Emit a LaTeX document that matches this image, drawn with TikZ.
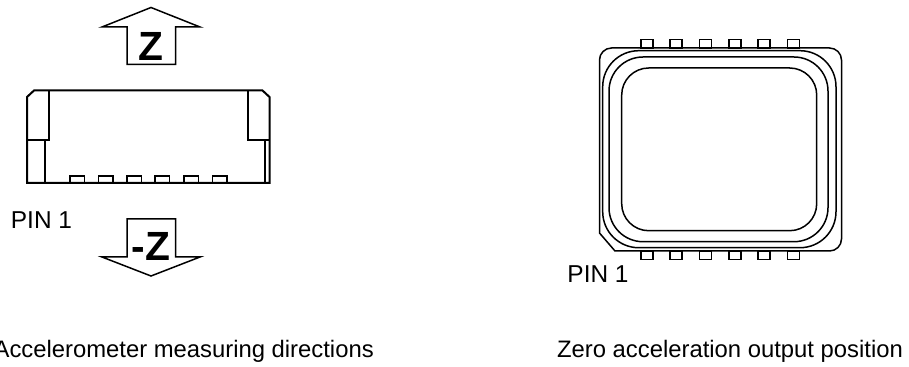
\documentclass[tikz,border=0pt]{standalone}
\usepackage{fontspec}
\setmainfont{Liberation Sans}
\usepackage{tikz}
\tikzset{
    outline/.style={draw=black, line width=0.2mm, line join=miter},
    thinline/.style={draw=black, line width=0.15mm},
    pad/.style={draw=black, line width=0.15mm},
    plainlabel/.style={font=\fontsize{6.95pt}{8pt}\selectfont, inner sep=0pt},
    caplabel/.style={font=\fontsize{6.78pt}{8pt}\selectfont, inner sep=0pt},
    dirlabel/.style={font=\fontsize{11.6pt}{13pt}\selectfont\bfseries, inner sep=0pt},
}

\begin{document}
\begin{tikzpicture}[x=1cm, y=1cm]
        \useasboundingbox (0,0) rectangle (9.09,-3.67);

        % direction arrows
        \draw[thinline] (1.51,-0.075) -- (2.00,-0.27) -- (1.755,-0.27) -- (1.755,-0.645) -- (1.27,-0.645) -- (1.27,-0.27) -- (1.02,-0.27) -- cycle;
        \draw[thinline] (1.51,-2.76) -- (2.00,-2.57) -- (1.755,-2.57) -- (1.755,-2.19) -- (1.27,-2.19) -- (1.27,-2.57) -- (1.02,-2.57) -- cycle;
        \node[dirlabel] (zup) at (1.51,-0.46) {Z};
        \node[dirlabel] (zdown) at (1.51,-2.465) {-Z};

        % side view
        \draw[outline] (0.27,-0.97) -- (0.34,-0.905) -- (2.625,-0.905) -- (2.695,-0.97) -- (2.695,-1.83) -- (0.27,-1.83) -- cycle;
        \draw[outline] (0.49,-0.905) -- (0.49,-1.40) -- (0.27,-1.40);
        \draw[outline] (0.27,-1.405) -- (0.445,-1.405) -- (0.445,-1.83);
        \draw[outline] (2.48,-0.905) -- (2.48,-1.40) -- (2.695,-1.40);
        \draw[thinline] (2.65,-1.40) -- (2.65,-1.83);
        \foreach \x in {0.70,0.985,1.27,1.55,1.84,2.125}
            \draw[pad] (\x,-1.76) rectangle ++(0.145,-0.07);
        \node[plainlabel] (pinleft) at (0.415,-2.20) {PIN 1};

        % top view
        \draw[thinline] (5.995,-0.60) arc (180:90:0.12) -- (8.295,-0.48) arc (90:0:0.12) -- (8.415,-2.39) arc (0:-90:0.12) -- (6.15,-2.51) -- (5.995,-2.33) -- cycle;
        \draw[thinline, rounded corners=0.36cm] (6.027,-0.507) rectangle (8.36,-2.477);
        \draw[thinline, rounded corners=0.34cm] (6.09,-0.57) rectangle (8.28,-2.417);
        \draw[thinline, rounded corners=0.27cm] (6.217,-0.68) rectangle (8.167,-2.307);
        \foreach \x in {6.41,6.70,6.995,7.29,7.58,7.875} {
            \draw[pad] (\x,-0.395) rectangle ++(0.12,-0.085);
            \draw[pad] (\x,-2.51) rectangle ++(0.12,-0.085);
        }
        \node[plainlabel] (pinright) at (5.98,-2.74) {PIN 1};

        % captions
        \node[caplabel] (capleft) at (1.837,-3.51) {Accelerometer measuring directions};
        \node[caplabel] (capright) at (7.30,-3.51) {Zero acceleration output position};
    \end{tikzpicture}
\end{document}
